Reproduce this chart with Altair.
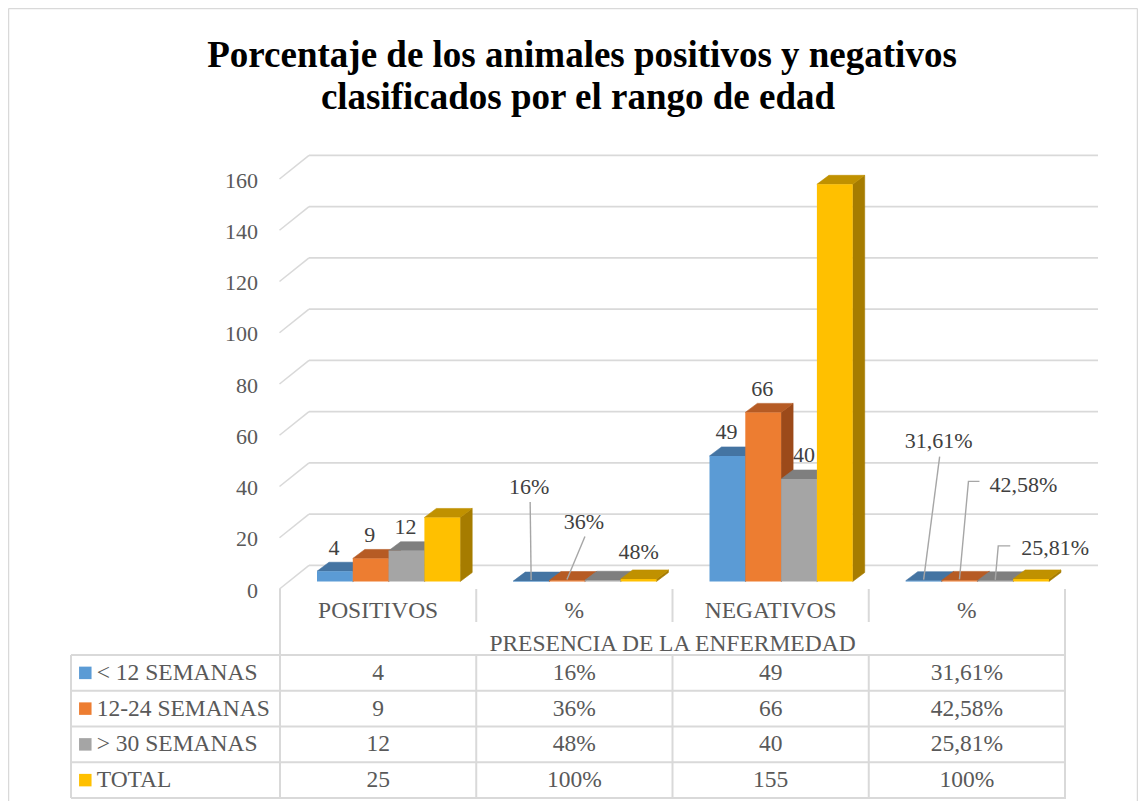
import altair as alt
import pandas as pd

# ---------------- data ----------------
CATEGORIES = ["POSITIVOS", "%", "NEGATIVOS", "%"]
SERIES = ["< 12 SEMANAS", "12-24 SEMANAS", "> 30 SEMANAS", "TOTAL"]
POSITIVOS = [4, 9, 12, 25]
PCT_POSITIVOS = [0.16, 0.36, 0.48, 1.00]
NEGATIVOS = [49, 66, 40, 155]
PCT_NEGATIVOS = [0.3161, 0.4258, 0.2581, 1.00]
Y_TICKS = [0, 20, 40, 60, 80, 100, 120, 140, 160]
GROUP_TITLE = "PRESENCIA DE LA ENFERMEDAD"
TITLE_LINES = ["Porcentaje de los animales positivos y  negativos",
               "clasificados por el rango de edad"]

COLUMNS = [POSITIVOS, PCT_POSITIVOS, NEGATIVOS, PCT_NEGATIVOS]
IS_PCT = [False, True, False, True]


def fmt(v, pct):
    if not pct:
        return str(int(v))
    p = round(v * 100, 2)
    if float(p).is_integer():
        return f"{int(p)}%"
    return f"{p:.2f}".replace(".", ",") + "%"


# ---------------- style ----------------
FRONT = ["#5B9BD5", "#ED7D31", "#A5A5A5", "#FFC000"]
TOP = ["#4474A2", "#B65B24", "#7F7F7F", "#C09100"]
SIDE = ["#36618A", "#9C4A1A", "#6A6A6A", "#A67C00"]
GRID = "#D9D9D9"
FONT = "Liberation Serif"
LABEL_COLOR = "#404040"
TEXT_COLOR = "#595959"

# layout (pixels)
ORIGIN = 9
W, H = 1128, 791
PX_X = 196.25          # px per category band
PX_Y = 2.5625          # px per value unit
COL0 = 280             # left edge of first category band
BASE = 581.5           # bar base (value 0) of front faces
ROW0, ROW_H = 655, 35.75
BAR_OFF, BAR_W = 37.0, 35.8
DEPTH_X, DEPTH_Y = 12.0, 9.0
BACK_SHIFT, FRONT_SHIFT = 16.1, 7.5
TITLE_POS = [(582, 67), (578, 109)]
TITLE_SIZE = 37


def ux(px):
    return (px - COL0) / PX_X


def dv(px):
    return px / PX_Y


def ur(py):
    return (py - ROW0) / ROW_H


# label nudges (px) relative to bar front-top centre
DEFAULT_NUDGE = (-1, -23.5)
LABEL_NUDGE = {(1, 0): (-2, -94), (1, 1): (17, -59), (1, 2): (36, -28),
               (3, 0): (15, -140), (3, 1): (64, -95), (3, 2): (60, -33),
               (2, 2): (5, -24)}
LEADERS = {(1, 0): [(0, -1), (-1, -79)],
           (1, 1): [(0, -1), (18, -44)],
           (3, 0): [(0, -1), (16, -124)],
           (3, 1): [(0, -1), (9, -99), (20, -99)],
           (3, 2): [(0, -1), (3, -35), (15, -35)]}

XS = alt.Scale(domain=[0, 4], range=[COL0 - ORIGIN, COL0 + 4 * PX_X - ORIGIN], nice=False, zero=False)
YS = alt.Scale(domain=[0, 160], range=[BASE - ORIGIN, BASE - ORIGIN - 160 * PX_Y], nice=False, zero=False)
TS = alt.Scale(domain=[0, 4], range=[ROW0 - ORIGIN, ROW0 + 4 * ROW_H - ORIGIN], nice=False, zero=False)


def X(f):
    return alt.X(f, type="quantitative", scale=XS, axis=None)


def Y(f):
    return alt.Y(f, type="quantitative", scale=YS, axis=None)


def R(f):
    return alt.Y(f, type="quantitative", scale=TS, axis=None)


# ---------------- gridlines ----------------
grid = pd.DataFrame({
    "v": Y_TICKS,
    "lab": [str(t) for t in Y_TICKS],
})
grid["xa"] = ux(309)
grid["xb"] = ux(1098)
grid["xf"] = ux(279.5)
grid["yb"] = grid["v"] + dv(BACK_SHIFT)
grid["yf"] = grid["v"] - dv(FRONT_SHIFT)
grid["xl"] = ux(258)
grid["yl"] = grid["v"] - dv(FRONT_SHIFT + 1.5)

grid_back = alt.Chart(grid).mark_rule(color=GRID, strokeWidth=1.6).encode(
    x=X("xa"), x2="xb", y=Y("yb"))
grid_diag = alt.Chart(grid).mark_rule(color=GRID, strokeWidth=1.6).encode(
    x=X("xf"), x2="xa", y=Y("yf"), y2="yb")
tick_labels = alt.Chart(grid).mark_text(
    align="right", baseline="middle", font=FONT, fontSize=22, color=TEXT_COLOR
).encode(x=X("xl"), y=Y("yl"), text="lab:N")

# ---------------- bars ----------------
fronts, sides, tops, labels, leaders = [], [], [], [], []
ddx, ddy = DEPTH_X / PX_X, dv(DEPTH_Y)
for c, col in enumerate(COLUMNS):
    for s, v in enumerate(col):
        bid = f"{c}-{s}"
        x0 = c + (BAR_OFF + s * BAR_W) / PX_X
        x1 = x0 + BAR_W / PX_X
        xc = (x0 + x1) / 2
        fronts.append({"id": bid, "x0": x0, "x1": x1, "v": v, "z": 0, "col": FRONT[s]})
        sides.append({"id": bid, "x": x1, "hi": v, "lo": 0, "col": SIDE[s]})
        sides.append({"id": bid, "x": x1 + ddx, "hi": v + ddy, "lo": ddy, "col": SIDE[s]})
        tops.append({"id": bid, "y": v, "xa": x0, "xb": x1, "col": TOP[s]})
        tops.append({"id": bid, "y": v + ddy, "xa": x0 + ddx, "xb": x1 + ddx, "col": TOP[s]})
        if s < 3:
            ndx, ndy = LABEL_NUDGE.get((c, s), DEFAULT_NUDGE)
            labels.append({"x": xc + ndx / PX_X, "y": v - dv(ndy), "t": fmt(v, IS_PCT[c])})
            if (c, s) in LEADERS:
                for k, (lx, ly) in enumerate(LEADERS[(c, s)]):
                    leaders.append({"id": bid, "k": k, "x": xc + lx / PX_X, "y": v - dv(ly)})

fronts = pd.DataFrame(fronts)
sides = pd.DataFrame(sides)
tops = pd.DataFrame(tops)
labels = pd.DataFrame(labels)
leaders = pd.DataFrame(leaders)

side_layer = alt.Chart(sides).mark_area(orient="vertical", strokeWidth=0.6).encode(
    x=X("x"), y=Y("hi"), y2="lo", detail="id:N",
    color=alt.Color("col:N", scale=None), stroke=alt.Stroke("col:N", scale=None))
top_layer = alt.Chart(tops).mark_area(orient="horizontal", strokeWidth=0.6).encode(
    y=Y("y"), x=X("xa"), x2="xb", detail="id:N",
    color=alt.Color("col:N", scale=None), stroke=alt.Stroke("col:N", scale=None))
front_layer = alt.Chart(fronts).mark_rect().encode(
    x=X("x0"), x2="x1", y=Y("v"), y2="z",
    color=alt.Color("col:N", scale=None))
leader_layer = alt.Chart(leaders).mark_line(color="#A6A6A6", strokeWidth=1.4).encode(
    x=X("x"), y=Y("y"), detail="id:N", order="k:Q")
label_layer = alt.Chart(labels).mark_text(
    align="center", baseline="middle", font=FONT, fontSize=22, color=LABEL_COLOR
).encode(x=X("x"), y=Y("y"), text="t:N")

# ---------------- data table ----------------
hdr = pd.DataFrame({"x": [c + 0.5 for c in range(4)], "r": ur(610.5), "t": CATEGORIES})
grp = pd.DataFrame({"x": [2.0], "r": [ur(644)], "t": [GROUP_TITLE]})
cells = pd.DataFrame([{"x": c + 0.5, "r": s + 0.5, "t": fmt(COLUMNS[c][s], IS_PCT[c])}
                      for c in range(4) for s in range(4)])
leg = pd.DataFrame({"x": ux(96.7), "xs": ux(85.3), "r": [s + 0.5 for s in range(4)],
                    "t": SERIES, "col": FRONT})

TL = ux(71)
hlines = pd.DataFrame({"xa": TL, "xb": 4 + 1 / PX_X, "r": [0, 1, 2, 3, 4]})
vl = [{"x": TL, "ra": 0, "rb": 4}, {"x": 0, "ra": ur(589), "rb": 4}, {"x": 4, "ra": ur(589), "rb": 4}]
for c in (1, 2, 3):
    vl.append({"x": c, "ra": ur(589), "rb": ur(622)})
    vl.append({"x": c, "ra": 0, "rb": 4})
vlines = pd.DataFrame(vl)

tbl_h = alt.Chart(hlines).mark_rule(color=GRID, strokeWidth=2).encode(x=X("xa"), x2="xb", y=R("r"))
tbl_v = alt.Chart(vlines).mark_rule(color=GRID, strokeWidth=2).encode(x=X("x"), y=R("ra"), y2="rb")
txt_kw = dict(font=FONT, fontSize=23.5, color=TEXT_COLOR, baseline="middle")
hdr_layer = alt.Chart(hdr).mark_text(align="center", **txt_kw).encode(x=X("x"), y=R("r"), text="t:N")
grp_layer = alt.Chart(grp).mark_text(align="center", **txt_kw).encode(x=X("x"), y=R("r"), text="t:N")
cell_layer = alt.Chart(cells).mark_text(align="center", **txt_kw).encode(x=X("x"), y=R("r"), text="t:N")
leg_text = alt.Chart(leg).mark_text(align="left", **txt_kw).encode(x=X("x"), y=R("r"), text="t:N")
leg_sw = alt.Chart(leg).mark_square(size=156, opacity=1).encode(
    x=X("xs"), y=R("r"), color=alt.Color("col:N", scale=None))

# ---------------- title and frame ----------------
title_df = pd.DataFrame({"t": [0]})
title_layers = [
    alt.Chart(title_df).mark_text(text=line, font=FONT, fontSize=TITLE_SIZE, fontWeight="bold",
                                   color="black", align="center", baseline="alphabetic")
    .encode(x=alt.value(tx - ORIGIN), y=alt.value(ty - ORIGIN))
    for line, (tx, ty) in zip(TITLE_LINES, TITLE_POS)
]
frame = [
    alt.Chart(title_df).mark_rule(color=GRID, strokeWidth=1.5).encode(
        x=alt.value(-0.5), y=alt.value(-0.5), y2=alt.value(H + 2)),
    alt.Chart(title_df).mark_rule(color=GRID, strokeWidth=1.5).encode(
        x=alt.value(-0.5), x2=alt.value(W + 0.5), y=alt.value(-0.5)),
    alt.Chart(title_df).mark_rule(color=GRID, strokeWidth=1.5).encode(
        x=alt.value(W + 0.5), y=alt.value(-0.5), y2=alt.value(H + 2)),
]

chart = alt.layer(
    *frame, grid_back, grid_diag, tick_labels,
    side_layer, top_layer, front_layer, leader_layer, label_layer,
    tbl_h, tbl_v, hdr_layer, grp_layer, cell_layer, leg_sw, leg_text,
    *title_layers,
).resolve_scale(y="independent").properties(
    width=W, height=H,
    padding={"left": 1, "top": 1, "right": 1, "bottom": 1},
    autosize=alt.AutoSizeParams(type="none"),
    background="white",
).configure_view(stroke=None)

chart.save("out.html", embed_options={"renderer": "svg", "actions": False})
